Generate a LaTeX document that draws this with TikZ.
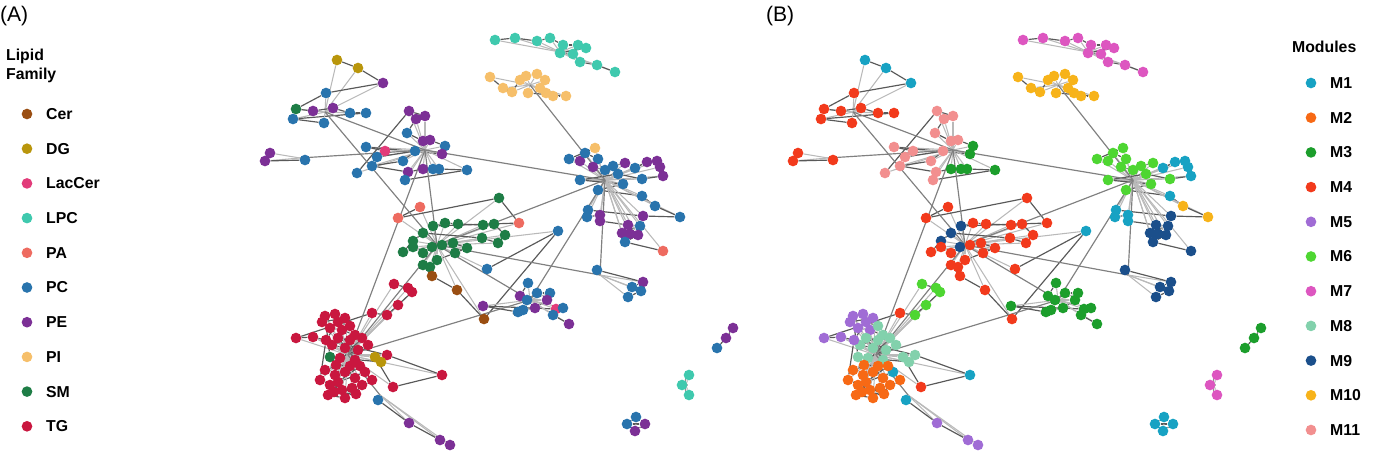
\documentclass[tikz,border=0pt]{standalone}
\usepackage{fontspec}
\setmainfont{Liberation Sans}
\usetikzlibrary{backgrounds}

% lipid families
\definecolor{cer}{HTML}{9A4E12}
\definecolor{dg}{HTML}{B9960C}
\definecolor{lac}{HTML}{E23C7A}
\definecolor{lpc}{HTML}{3FC9AE}
\definecolor{pa}{HTML}{EE6B60}
\definecolor{pc}{HTML}{2974AD}
\definecolor{pe}{HTML}{7C3096}
\definecolor{pi}{HTML}{F6BF6A}
\definecolor{sm}{HTML}{1E7D46}
\definecolor{tg}{HTML}{C9173F}
% modules
\definecolor{m1}{HTML}{17A2C3}
\definecolor{m2}{HTML}{F76915}
\definecolor{m3}{HTML}{1C9E2C}
\definecolor{m4}{HTML}{F23A1C}
\definecolor{m5}{HTML}{A06CD5}
\definecolor{m6}{HTML}{4ED632}
\definecolor{m7}{HTML}{DD56C0}
\definecolor{m8}{HTML}{82D1AC}
\definecolor{m9}{HTML}{1B4F8B}
\definecolor{m10}{HTML}{F7B31A}
\definecolor{m11}{HTML}{F28F8F}

\tikzset{
  dot/.style={circle, inner sep=0pt, minimum size=0.32cm, draw=none},
  edge/.style={draw=gray!55, line width=0.9pt},
  nearedge/.style={draw=black!65, line width=1pt},
  hubedge/.style={draw=black!50, line width=1pt},
  legtext/.style={anchor=west, font=\bfseries\fontsize{13.5}{16}\selectfont},
  title/.style={anchor=west, font=\fontsize{18}{20}\selectfont}
}

\def\netnodes{%
495/40/lpc/m7/t,515/38/lpc/m7/t,537/41/lpc/m7/t,550/38/lpc/m7/t,563/45/lpc/m7/t,578/45/lpc/m7/t,586/48/lpc/m7/t,560/53/lpc/m7/t,573/54/lpc/m7/t,580/62/lpc/m7/t,597/65/lpc/m7/t,615/72/lpc/m7/t,%
490/77/pi/m10/p,503/88/pi/m10/p,512/92/pi/m10/p,520/80/pi/m10/p,526/76/pi/m10/p,537/74/pi/m10/p,545/80/pi/m10/p,540/88/pi/m10/p,546/93/pi/m10/p,553/96/pi/m10/p,566/96/pi/m10/p,528/93/pi/m10/p,%
337/60/dg/m1/k,358/68/dg/m1/k,383/83/pe/m1/k,326/93/pc/m4/k,296/109/sm/m4/k,313/111/pe/m4/k,333/108/pe/m4/k,350/113/pc/m4/k,366/113/pc/m4/k,293/119/pc/m4/k,324/123/pc/m4/k,%
270/153/pe/m4/f,265/161/pe/m4/f,305/160/pc/m4/f,357/173/pc/m11/u,%
409/111/pe/m11/u,425/116/pe/m11/u,416/119/pe/m11/u,407/133/pc/m11/u,423/141/pe/m11/u,430/140/pe/m11/u,445/146/pc/m3/u,442/154/pe/m3/u,366/147/pc/m11/u,385/151/lac/m11/u,377/157/pc/m11/u,415/151/pc/m11/u,403/161/pc/m11/u,372/166/pc/m11/u,408/172/pe/m11/u,423/169/pe/m3/u,433/169/pc/m3/u,439/169/pc/m3/u,467/170/pc/m3/u,405/180/pc/m11/u,%
420/207/pa/m4/c,398/218/pa/m4/c,499/198/sm/m4/c,519/223/pa/m4/c,433/226/sm/m9/c,445/223/sm/m4/c,458/224/sm/m4/c,483/225/sm/m4/c,494/224/sm/m4/c,505/235/sm/m4/c,498/243/sm/m4/c,482/238/sm/m4/c,423/233/sm/m9/c,413/241/sm/m9/c,403/252/sm/m4/c,413/247/sm/m4/c,423/253/sm/m4/c,432/247/sm/m9/c,442/245/sm/m4/c,453/243/sm/m4/c,467/248/sm/m4/c,455/253/sm/m4/c,437/260/sm/m4/c,430/267/sm/m4/c,423/265/sm/m4/c,432/276/cer/m4/c,457/290/cer/m4/c,484/319/cer/m4/c,558/231/pc/m1/c,487/269/pc/m4/c,%
595/148/pi/m6/r,569/159/pc/m6/r,580/161/pe/m6/r,585/153/pc/m6/r,598/159/pc/m6/r,593/167/pe/m6/r,605/170/pc/m6/r,613/166/pc/m6/r,625/163/pe/m6/r,635/168/pc/m1/r,647/162/pe/m1/r,657/161/pe/m1/r,660/167/pe/m1/r,663/176/pe/m1/r,642/179/pc/m6/r,618/174/pc/m6/r,580/180/pc/m6/r,623/184/pc/m6/r,598/190/pc/m6/r,642/196/pc/m1/r,655/206/pc/m10/r,680/217/pc/m10/r,643/216/pe/m9/r,588/210/pc/m1/r,587/217/pc/m1/r,600/215/pe/m1/r,600/221/pe/m1/r,628/225/pe/m9/r,640/226/pc/m9/r,622/233/pe/m9/r,630/234/pe/m9/r,638/235/pe/m9/r,625/242/pc/m9/r,663/251/pa/m9/r,%
597/270/pc/m9/q,643/282/pe/m9/q,632/287/pc/m9/q,641/291/pc/m9/q,628/297/pc/m9/q,%
528/283/pc/m3/m,520/296/pe/m3/m,527/300/pc/m3/m,537/293/pc/m3/m,550/293/pc/m3/m,547/300/pe/m3/m,535/308/pe/m3/m,523/310/pc/m3/m,518/312/pc/m3/m,483/306/pe/m3/m,556/309/lac/m3/m,563/308/pc/m3/m,553/315/pc/m3/m,569/324/pe/m3/m,%
394/284/tg/m6/g,408/288/tg/m6/g,412/292/tg/m6/g,398/305/tg/m6/g,387/315/tg/m6/g,372/313/tg/m4/g,296/338/tg/m5/g,313/337/tg/m5/g,387/355/tg/m8/g,442/375/tg/m1/g,393/387/tg/m4/g,375/357/dg/m8/g,381/362/dg/m8/g,330/357/sm/m8/g,%
325/316/tg/m5/g,335/314/tg/m5/g,345/318/tg/m5/g,322/322/tg/m5/g,330/328/tg/m5/g,342/330/tg/m5/g,355/335/tg/m8/g,332/345/tg/m8/g,345/348/tg/m8/g,358/350/tg/m8/g,368/345/tg/m8/g,340/358/tg/m8/g,355/360/tg/m8/g,325/370/tg/m2/g,335/375/tg/m2/g,345/372/tg/m2/g,355/378/tg/m2/g,365/372/tg/m1/g,330/385/tg/m2/g,342/390/tg/m2/g,352/388/tg/m2/g,362/385/tg/m2/g,328/395/tg/m2/g,345/398/tg/m2/g,372/380/tg/m2/g,%
338/338/tg/m8/g,350/340/tg/m8/g,362/338/tg/m8/g,336/365/tg/m2/g,350/366/tg/m2/g,360/366/tg/m2/g,338/382/tg/m2/g,334/392/tg/m2/g,356/394/tg/m2/g,320/380/tg/m2/g,326/340/tg/m5/g,338/322/tg/m5/g,350/326/tg/m8/g,%
378/400/pc/m1/w,409/423/pe/m5/w,440/440/pe/m5/w,450/445/pe/m5/w,%
733/328/pe/m3/a,726/338/pe/m3/a,717/348/pc/m3/a,%
689/375/lpc/m7/b,682/385/lpc/m7/b,689/395/lpc/m7/b,%
636/417/pc/m1/d,627/424/pc/m1/d,645/424/pe/m1/d,635/431/pe/m1/d%
}

% one network panel: name, x offset, colour field
\newcommand\netpanel[3]{%
\begin{scope}[shift={(#2,0)}]
\coordinate (#1-ht) at (560,52);
\coordinate (#1-hp) at (530,85);
\coordinate (#1-hk) at (325,112);
\coordinate (#1-hf) at (300,158);
\coordinate (#1-hu) at (425,150);
\coordinate (#1-hc) at (437,245);
\coordinate (#1-hr) at (605,180);
\coordinate (#1-hq) at (600,275);
\coordinate (#1-hm) at (530,300);
\coordinate (#1-hg) at (348,355);
\coordinate (#1-hw) at (380,395);
\coordinate (#1-ha) at (726,338);
\coordinate (#1-hb) at (686,385);
\coordinate (#1-hd) at (636,424);
\foreach \x/\y/\f/\m/\c [count=\i] in \netnodes
  \node[dot, fill=#3] (#1-n\i) at (\x,\y) {};
\begin{scope}[on background layer]
\foreach \x/\y/\f/\m/\c [count=\i, remember=\c as \lastc (initially z), remember=\i as \lasti (initially 0)]
    in \netnodes {
  \draw[edge] (#1-n\i) -- (#1-h\c);
  \ifx\c\lastc \draw[nearedge] (#1-n\i) -- (#1-n\lasti); \fi
}
\foreach \s/\e in {p/r,k/u,f/u,u/c,c/g,c/r,c/m,u/r,r/q,m/g,c/q,u/g,g/w,r/m,k/c}
  \draw[hubedge] (#1-h\s) -- (#1-h\e);
\end{scope}
\end{scope}}

\begin{document}
\begin{tikzpicture}[x=0.03cm, y=-0.03cm]
\useasboundingbox (0,0) rectangle (1389,465);

% panel A
\node[title] (tA) at (-4,16) {(A)};
\node[legtext, align=left] (famhead) at (2,66) {Lipid\\Family};
\foreach \lab/\col [count=\k from 0] in {Cer/cer,DG/dg,LacCer/lac,LPC/lpc,PA/pa,PC/pc,PE/pe,PI/pi,SM/sm,TG/tg}{
  \node[dot, fill=\col] (famdot\k) at (27,114+34.7*\k) {};
  \node[legtext] (famlab\k) at (42,114+34.7*\k) {\lab};
}
\netpanel{A}{0}{\f}

% panel B
\node[title] (tB) at (762,16) {(B)};
\node[legtext] (modhead) at (1288,47) {Modules};
\foreach \lab/\col [count=\k from 0] in {M1/m1,M2/m2,M3/m3,M4/m4,M5/m5,M6/m6,M7/m7,M8/m8,M9/m9,M10/m10,M11/m11}{
  \node[dot, fill=\col] (moddot\k) at (1311,83+34.7*\k) {};
  \node[legtext] (modlab\k) at (1326,83+34.7*\k) {\lab};
}
\netpanel{B}{528}{\m}
\end{tikzpicture}
\end{document}
